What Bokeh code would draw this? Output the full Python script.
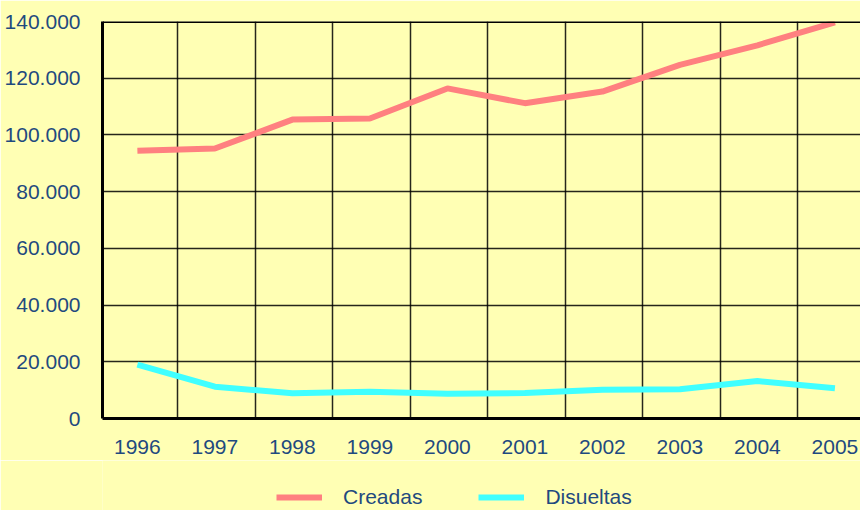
from bokeh.plotting import figure
from bokeh.layouts import column
from bokeh.models import Range1d, FixedTicker, Legend, LegendItem, Span, ColumnDataSource
from bokeh.embed import file_html
from bokeh.resources import INLINE

years = ["1996", "1997", "1998", "1999", "2000", "2001", "2002", "2003", "2004", "2005"]
creadas = [94400, 95200, 105400, 105800, 116400, 111200, 115300, 124700, 131600, 139700]
disueltas = [19000, 11200, 8900, 9400, 8700, 9000, 10100, 10300, 13200, 10700]
y_ticks = [0, 20000, 40000, 60000, 80000, 100000, 120000, 140000]
y_labels = ["0", "20.000", "40.000", "60.000", "80.000", "100.000", "120.000", "140.000"]

BG = "#FFFFB4"
TXT = "#1F4A7F"
FONT = "Liberation Sans"
C1 = "#FF8080"
C2 = "#40FFFF"

idx = list(range(len(years)))
src = ColumnDataSource(dict(x=idx, c=creadas, d=disueltas))

p = figure(width=860, height=460, output_backend="svg", toolbar_location=None,
           x_range=Range1d(-0.45, 9.33), y_range=Range1d(0, 140000),
           min_border_left=102, min_border_top=21, min_border_bottom=42, min_border_right=0)
p.background_fill_color = BG
p.border_fill_color = BG
p.outline_line_color = None

p.line("x", "c", source=src, line_color=C1, line_width=6)
p.line("x", "d", source=src, line_color=C2, line_width=6)

p.xaxis.ticker = FixedTicker(ticks=idx)
p.xaxis.major_label_overrides = {i: y for i, y in zip(idx, years)}
p.yaxis.ticker = FixedTicker(ticks=y_ticks)
p.yaxis.major_label_overrides = {t: l for t, l in zip(y_ticks, y_labels)}

for ax in (p.xaxis, p.yaxis):
    ax.major_tick_line_color = None
    ax.minor_tick_line_color = None
    ax.axis_line_color = "black"
    ax.axis_line_width = 3
    ax.major_label_text_font = FONT
    ax.major_label_text_font_size = "21px"
    ax.major_label_text_color = TXT
p.xaxis.major_label_standoff = 15
p.yaxis.major_label_standoff = 16

p.xgrid.ticker = FixedTicker(ticks=[i + 0.52 for i in range(10)])
p.xgrid.grid_line_color = "black"
p.xgrid.grid_line_width = 1.5
p.xgrid.grid_line_alpha = 0.85
p.ygrid.ticker = FixedTicker(ticks=y_ticks)
p.ygrid.grid_line_color = "black"
p.ygrid.grid_line_width = 1.5
p.ygrid.grid_line_alpha = 0.85

p.add_layout(Span(location=140000, dimension="width", line_color="black", line_width=3))

# legend strip below the chart (its sample lines lie outside its own view)
p2 = figure(width=860, height=50, output_backend="svg", toolbar_location=None,
            x_range=Range1d(100, 101), y_range=Range1d(0, 1),
            min_border=0)
p2.axis.visible = False
p2.grid.visible = False
p2.outline_line_color = None
p2.background_fill_color = BG
p2.border_fill_color = BG
l1 = p2.line("x", "c", source=src, line_color=C1, line_width=6)
l2 = p2.line("x", "d", source=src, line_color=C2, line_width=6)

legend = Legend(items=[LegendItem(label="Creadas", renderers=[l1]),
                       LegendItem(label="Disueltas", renderers=[l2])],
                location=(174, 1), orientation="horizontal",
                glyph_width=46, glyph_height=20, label_standoff=21, spacing=56,
                padding=0, margin=0, border_line_color=None, background_fill_alpha=0,
                label_text_font=FONT, label_text_font_size="21px", label_text_color=TXT)
p2.add_layout(legend, "center")

layout = column(p, p2, spacing=0)
open("out.html", "w").write(file_html(layout, INLINE))
